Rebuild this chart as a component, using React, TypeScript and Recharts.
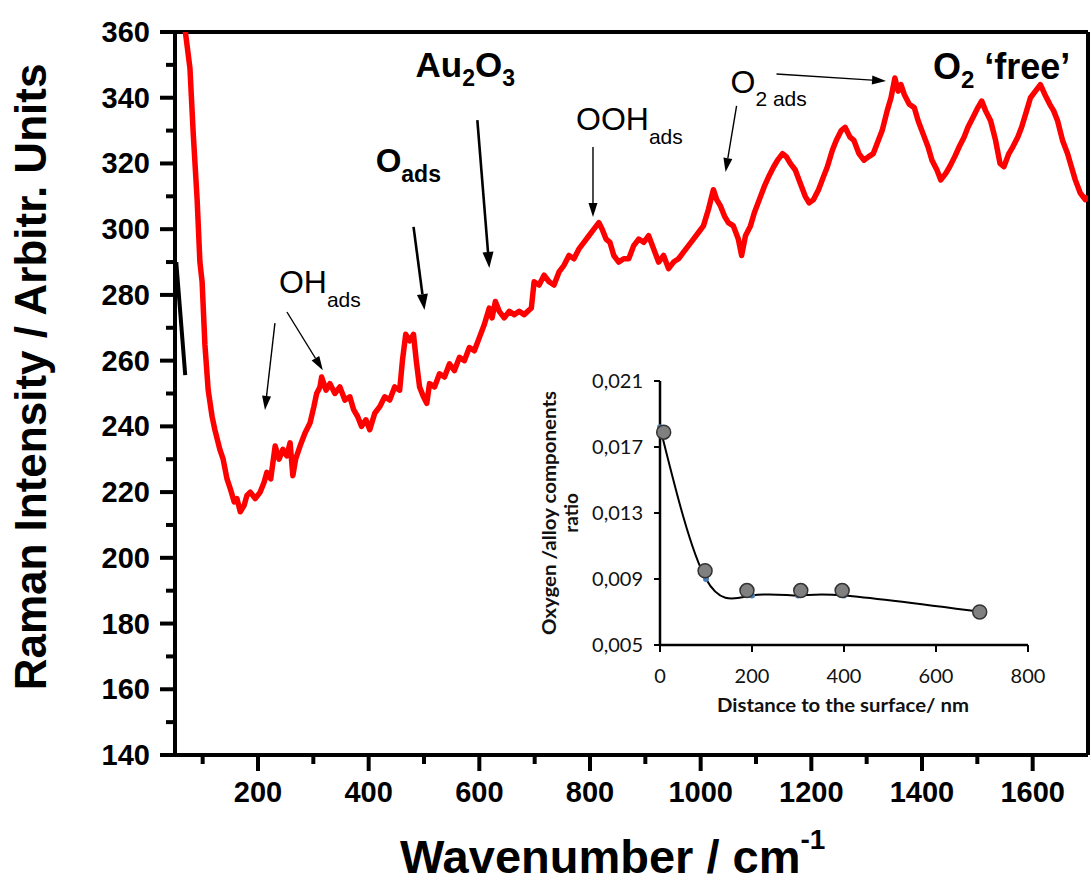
import { LineChart, Line, XAxis, YAxis, ReferenceLine, ReferenceDot, Label } from 'recharts'

// Raman spectrum
const wavenumber = [
  65, 77, 83, 90, 95, 99, 104, 110, 117, 122, 131, 137, 144, 150, 157, 162, 168, 175, 180, 186,
  195, 204, 211, 216, 223, 231, 238, 245, 252, 258, 263, 268, 276, 285, 294, 301, 306, 312, 315, 323,
  330, 339, 348, 357, 366, 373, 380, 387, 395, 402, 411, 420, 429, 438, 447, 456, 461, 467, 474, 481,
  486, 492, 499, 505, 510, 519, 528, 537, 546, 555, 564, 573, 582, 591, 600, 609, 618, 623, 629, 636,
  645, 654, 663, 672, 681, 694, 699, 708, 717, 726, 735, 744, 753, 762, 771, 780, 789, 798, 807, 816,
  822, 829, 836, 843, 852, 861, 870, 879, 888, 897, 906, 915, 924, 933, 942, 951, 960, 969, 978, 987,
  996, 1005, 1014, 1023, 1029, 1036, 1043, 1050, 1059, 1068, 1074, 1081, 1090, 1097, 1106, 1115, 1123, 1132, 1139, 1148,
  1155, 1162, 1171, 1180, 1189, 1196, 1204, 1213, 1222, 1229, 1238, 1245, 1254, 1261, 1270, 1277, 1286, 1295, 1303, 1312,
  1321, 1328, 1337, 1344, 1351, 1357, 1362, 1368, 1377, 1386, 1393, 1402, 1411, 1418, 1427, 1434, 1443, 1450, 1459, 1467,
  1476, 1483, 1492, 1501, 1508, 1515, 1524, 1533, 1541, 1548, 1557, 1564, 1573, 1580, 1589, 1596, 1605, 1614, 1622, 1631,
  1638, 1645, 1654, 1663, 1670, 1677, 1686, 1695, 1700,
]
const intensity = [
  365, 349, 329, 309, 290, 284, 265, 251, 243, 239, 233, 230, 224, 221, 217, 218, 214, 216, 219, 220,
  218, 220, 223, 226, 224, 234, 230, 233, 231, 235, 225, 230, 234, 238, 241, 246, 250, 252, 255, 251,
  253, 250, 252, 248, 249, 245, 243, 240, 242, 239, 244, 246, 249, 248, 252, 251, 260, 268, 266, 268,
  260, 252, 249, 247, 253, 252, 256, 255, 259, 257, 261, 260, 264, 263, 267, 271, 276, 273, 278, 275,
  273, 275, 274, 275, 274, 276, 284, 283, 286, 284, 283, 287, 289, 292, 291, 294, 296, 298, 300, 302,
  300, 297, 296, 292, 290, 291, 291, 295, 297, 296, 298, 294, 290, 292, 288, 290, 291, 293, 295, 297,
  299, 301, 306, 312, 309, 307, 304, 302, 301, 297, 292, 298, 301, 305, 309, 313, 316, 319, 321, 323,
  322, 320, 318, 314, 310, 308, 309, 312, 316, 319, 324, 327, 330, 331, 328, 327, 323, 321, 322, 323,
  327, 330, 336, 340, 346, 342, 344, 341, 338, 337, 333, 329, 325, 321, 318, 315, 317, 319, 322, 325,
  328, 331, 334, 337, 339, 336, 333, 327, 320, 319, 323, 325, 328, 331, 336, 340, 342, 344, 341, 338,
  336, 333, 327, 323, 319, 315, 311, 309, 310,
]

const xTicks = [100, 200, 300, 400, 500, 600, 700, 800, 900, 1000, 1100, 1200, 1300, 1400, 1500, 1600]
const yTicks = [140, 150, 160, 170, 180, 190, 200, 210, 220, 230, 240, 250, 260, 270, 280, 290, 300, 310, 320, 330, 340, 350, 360]

// inset: oxygen / alloy ratio vs depth
const depthMeasured = [8, 98, 189, 306, 396, 695]
const ratioMeasured = [0.0179, 0.0095, 0.0083, 0.0083, 0.0083, 0.0070]
const depthFit = [0, 100, 200, 300, 400, 700]
const ratioFit = [0.0182, 0.0090, 0.0080, 0.0080, 0.0080, 0.0070]
const insetXTicks = [0, 200, 400, 600, 800]
const insetYTicks = [0.005, 0.009, 0.013, 0.017, 0.021]

const spectrum = wavenumber.map((w, i) => ({ w, v: intensity[i] }))
const measured = depthMeasured.map((d, i) => ({ d, r: ratioMeasured[i] }))
const fit = depthFit.map((d, i) => ({ d, r: ratioFit[i] }))

// annotation arrows [from, to] in data coords
const arrows: { from: [number, number]; to: [number, number]; heavy?: boolean }[] = [
  { from: [230.6, 271.4], to: [212.6, 245.0] },
  { from: [252.3, 274.8], to: [317.1, 257.1] },
  { from: [481.1, 300.7], to: [500.9, 275.4], heavy: true },
  { from: [596.4, 333.2], to: [618.0, 288.2], heavy: true },
  { from: [805.4, 325.0], to: [805.4, 303.7] },
  { from: [1064.9, 337.5], to: [1045.0, 317.4] },
  { from: [1137, 347.2], to: [1335, 345.1] },
]

const ARIAL = '"Liberation Sans", Arial, Helvetica, sans-serif'
const CALIBRI = 'Lato, "Open Sans", sans-serif'

const arrowShape = (p: any, heavy?: boolean) => {
  const { x1, y1, x2, y2 } = p
  const ang = Math.atan2(y2 - y1, x2 - x1)
  const len = heavy ? 16 : 14
  const hw = heavy ? 5.5 : 4.5
  const bx = x2 - len * Math.cos(ang)
  const by = y2 - len * Math.sin(ang)
  const nx = -Math.sin(ang) * hw
  const ny = Math.cos(ang) * hw
  return (
    <g>
      <line x1={x1} y1={y1} x2={bx} y2={by} stroke="#000" strokeWidth={heavy ? 2.6 : 1.4} />
      <polygon points={`${x2},${y2} ${bx + nx},${by + ny} ${bx - nx},${by - ny}`} fill="#000" />
    </g>
  )
}

const MainYTick = ({ x, y, payload }: any) => {
  const major = payload.value % 20 === 0
  return (
    <g>
      <line x1={x} x2={x - (major ? 15 : 9)} y1={y} y2={y} stroke="#000" strokeWidth={4} />
      {major && (
        <text x={x - 25} y={y} dy={10} textAnchor="end" fontSize={29} fontWeight="bold" fontFamily={ARIAL} fill="#000">
          {payload.value}
        </text>
      )}
    </g>
  )
}

const MainXTick = ({ x, y, payload }: any) => {
  const major = payload.value % 200 === 0
  return (
    <g>
      <line x1={x} x2={x} y1={y} y2={y + (major ? 16 : 9)} stroke="#000" strokeWidth={4} />
      {major && (
        <text x={x} y={y + 47} textAnchor="middle" fontSize={29} fontWeight="bold" fontFamily={ARIAL} fill="#000">
          {payload.value}
        </text>
      )}
    </g>
  )
}

const InsetYTick = ({ x, y, payload }: any) => (
  <g>
    <line x1={x} x2={x - 6} y1={y} y2={y} stroke="#000" strokeWidth={2} />
    <text x={x - 17} y={y} dy={7} textAnchor="end" fontSize={20} fontFamily={CALIBRI} fill="#111">
      {payload.value.toFixed(3).replace('.', ',')}
    </text>
  </g>
)

const InsetXTick = ({ x, y, payload }: any) => (
  <g>
    <line x1={x} x2={x} y1={y} y2={y + 7} stroke="#000" strokeWidth={2} />
    <text x={x} y={y + 38} textAnchor="middle" fontSize={20} fontFamily={CALIBRI} fill="#111">
      {payload.value}
    </text>
  </g>
)

const textLabel = (p: any, parts: { t: string; sub?: boolean }[], bold: boolean, size: number, subSize: number, subDy: number) => (
  <text x={p.cx} y={p.cy} fontFamily={ARIAL} fontWeight={bold ? 'bold' : 'normal'} fontSize={size} fill="#000">
    {parts.map((s, i) => {
      const prevSub = i > 0 && parts[i - 1].sub
      const dy = s.sub && !prevSub ? subDy : !s.sub && prevSub ? -subDy : 0
      return (
        <tspan key={i} dy={dy} fontSize={s.sub ? subSize : size}>
          {s.t}
        </tspan>
      )
    })}
  </text>
)

export default function App() {
  return (
    <div style={{ position: 'absolute', left: 0, top: 0, width: 1091, height: 882, background: '#fff' }}>
      <LineChart width={1091} height={882} data={spectrum} margin={{ top: 32, right: 3, bottom: 0, left: 0 }}>
        <XAxis
          dataKey="w"
          type="number"
          domain={[50, 1700]}
          ticks={xTicks}
          height={127}
          tickSize={0}
          tickMargin={0}
          tickLine={false}
          tick={<MainXTick />}
          axisLine={{ stroke: '#000', strokeWidth: 4 }}
          allowDataOverflow
        >
          <Label
            content={() => (
              <text x={400} y={873} fontFamily={ARIAL} fontWeight="bold" fontSize={47} fill="#000">
                Wavenumber / cm
                <tspan fontSize={28} dy={-24}>-1</tspan>
              </text>
            )}
          />
        </XAxis>
        <YAxis
          type="number"
          domain={[140, 360]}
          ticks={yTicks}
          width={175}
          tickSize={0}
          tickMargin={0}
          tickLine={false}
          tick={<MainYTick />}
          axisLine={{ stroke: '#000', strokeWidth: 4 }}
          allowDataOverflow
        >
          <Label
            content={() => (
              <text
                x={46}
                y={377}
                transform="rotate(-90 46 377)"
                textAnchor="middle"
                fontFamily={ARIAL}
                fontWeight="bold"
                fontSize={44}
                fill="#000"
              >
                Raman Intensity / Arbitr. Units
              </text>
            )}
          />
        </YAxis>
        <ReferenceLine y={360} stroke="#000" strokeWidth={4} />
        <ReferenceLine x={1700} stroke="#000" strokeWidth={4} />
        <ReferenceLine segment={[{ x: 52.3, y: 290 }, { x: 68.5, y: 255.6 }]} stroke="#000" strokeWidth={4} />
        <Line dataKey="v" type="linear" stroke="#ff0000" strokeWidth={5.5} strokeLinejoin="round" dot={false} isAnimationActive={false} />
        {arrows.map((a, i) => (
          <ReferenceLine
            key={i}
            segment={[{ x: a.from[0], y: a.from[1] }, { x: a.to[0], y: a.to[1] }]}
            shape={(p: any) => arrowShape(p, a.heavy)}
          />
        ))}
        <ReferenceDot x={237.8} y={280.6} shape={(p: any) => textLabel(p, [{ t: 'OH' }, { t: 'ads', sub: true }], false, 32, 21, 14)} />
        <ReferenceDot x={412.6} y={317.4} shape={(p: any) => textLabel(p, [{ t: 'O' }, { t: 'ads', sub: true }], true, 33, 23, 10)} />
        <ReferenceDot
          x={484.8}
          y={346.4}
          shape={(p: any) => textLabel(p, [{ t: 'Au' }, { t: '2', sub: true }, { t: 'O' }, { t: '3', sub: true }], true, 35, 23, 9)}
        />
        <ReferenceDot x={774.8} y={330.2} shape={(p: any) => textLabel(p, [{ t: 'OOH' }, { t: 'ads', sub: true }], false, 32, 21, 14)} />
        <ReferenceDot x={1054} y={341.4} shape={(p: any) => textLabel(p, [{ t: 'O' }, { t: '2 ads', sub: true }], false, 32, 21, 13)} />
        <ReferenceDot
          x={1419.8}
          y={345.8}
          shape={(p: any) => textLabel(p, [{ t: 'O' }, { t: '2', sub: true }, { t: ' \u2018free\u2019' }], true, 36, 24, 9)}
        />
      </LineChart>

      <div style={{ position: 'absolute', left: 500, top: 360 }}>
        <LineChart width={560} height={370} margin={{ top: 21, right: 32, bottom: 0, left: 0 }}>
          <XAxis
            dataKey="d"
            type="number"
            domain={[0, 800]}
            ticks={insetXTicks}
            height={85}
            tickSize={0}
            tickMargin={0}
            tickLine={false}
            tick={<InsetXTick />}
            axisLine={{ stroke: '#000', strokeWidth: 2.5 }}
          >
            <Label
              content={() => (
                <text x={343} y={352} textAnchor="middle" textLength={252} lengthAdjust="spacingAndGlyphs" fontFamily={CALIBRI} fontWeight="bold" fontSize={19} fill="#111">
                  Distance to the surface/ nm
                </text>
              )}
            />
          </XAxis>
          <YAxis
            type="number"
            domain={[0.005, 0.021]}
            ticks={insetYTicks}
            width={160}
            tickSize={0}
            tickMargin={0}
            tickLine={false}
            tick={<InsetYTick />}
            axisLine={{ stroke: '#000', strokeWidth: 2.5 }}
          >
            <Label
              content={() => (
                <g fontFamily={CALIBRI} fontWeight="bold" fontSize={19} fill="#111">
                  <text x={56} y={153} transform="rotate(-90 56 153)" textAnchor="middle" textLength={244} lengthAdjust="spacingAndGlyphs">
                    Oxygen /alloy components
                  </text>
                  <text x={78} y={153} transform="rotate(-90 78 153)" textAnchor="middle">
                    ratio
                  </text>
                </g>
              )}
            />
          </YAxis>
          <Line
            data={fit}
            dataKey="r"
            type="natural"
            stroke="#000"
            strokeWidth={2}
            dot={{ r: 2, fill: '#4a7ebb', stroke: '#4a7ebb' }}
            isAnimationActive={false}
          />
          <Line
            data={measured}
            dataKey="r"
            stroke="none"
            dot={{ r: 7, fill: '#808080', stroke: '#333', strokeWidth: 1.5 }}
            isAnimationActive={false}
          />
        </LineChart>
      </div>
    </div>
  )
}
